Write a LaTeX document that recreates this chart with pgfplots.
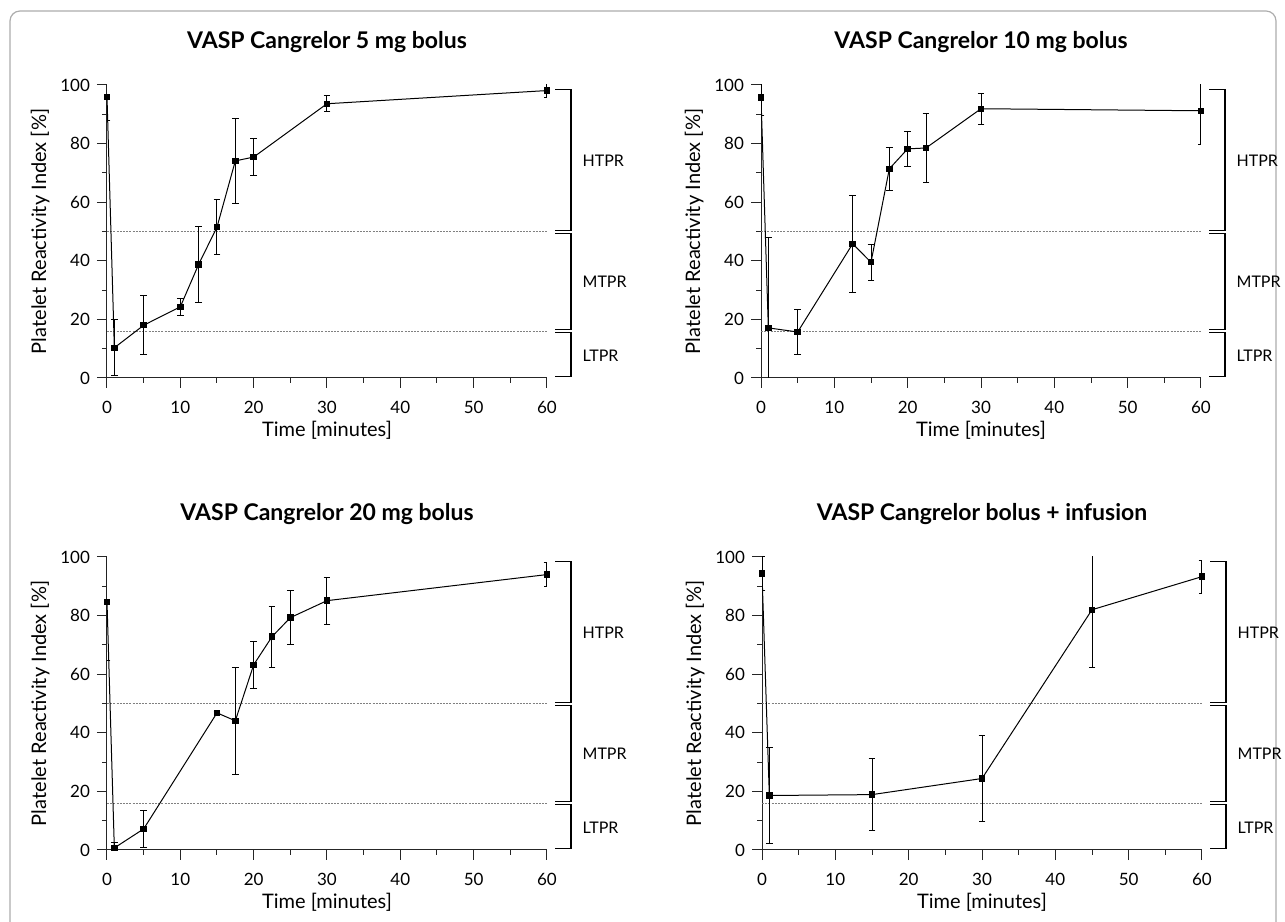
\documentclass[border=0pt]{standalone}
\usepackage{pgfplots}
\pgfplotsset{compat=1.18}
\usepackage{fontspec}
\setmainfont{Lato}

% one pixel of the reference = 0.5pt
\pgfplotsset{
  panel/.style={
    scale only axis, width=220pt, height=146.5pt, anchor=south west,
    xmin=0, xmax=60, ymin=0, ymax=100,
    axis lines=left, axis line style={-, line width=0.5pt, black!85},
    xtick={0,10,...,60}, minor xtick={5,15,...,55},
    ytick={0,20,...,100}, minor ytick={10,30,...,90},
    tick align=outside, major tick length=5pt, minor tick length=2.5pt,
    every tick/.style={black!85, line width=0.5pt},
    tick label style={font=\fontsize{8.5}{10}\selectfont},
    xticklabel style={yshift=-3pt},
    /pgf/number format/assume math mode=true,
    xlabel={Time [minutes]}, ylabel={Platelet Reactivity Index [\%]},
    label style={font=\fontsize{10}{12}\selectfont},
    xlabel style={at={(axis description cs:0.5,-0.18)}, anchor=center},
    ylabel style={at={(axis description cs:-0.152,0.5)}, anchor=center},
    % the default title style already shifts it up by 6pt
    title style={at={(axis description cs:0.5,1.085)}, anchor=base,
      font=\bfseries\fontsize{11.5}{13}\selectfont},
    clip mode=individual,
  },
  dat/.style={black, line width=0.5pt, mark=square*, mark size=1.35pt,
    error bars/.cd, y dir=both, y explicit,
    error bar style={line width=0.5pt},
    error mark options={rotate=90, mark size=1.7pt, line width=0.5pt}},
}

\newcommand\thresholds{%
  \draw[gray, line width=0.35pt, dash pattern=on 1pt off 0.6pt] (axis cs:0,50) -- (axis cs:60,50);
  \draw[gray, line width=0.35pt, dash pattern=on 1pt off 0.6pt] (axis cs:0,16) -- (axis cs:60,16);
  \draw[line width=0.7pt] (axis cs:61.1,98.5) -- (axis cs:63.3,98.5) -- (axis cs:63.3,50.3) -- (axis cs:61.1,50.3);
  \draw[line width=0.7pt] (axis cs:61.1,49.4) -- (axis cs:63.3,49.4) -- (axis cs:63.3,16.5) -- (axis cs:61.1,16.5);
  \draw[line width=0.7pt] (axis cs:61.1,15.6) -- (axis cs:63.3,15.6) -- (axis cs:63.3,0.5) -- (axis cs:61.1,0.5);
  \node[anchor=west, font=\fontsize{8}{9}\selectfont] at (axis cs:63.9,74.3) {HTPR};
  \node[anchor=west, font=\fontsize{8}{9}\selectfont] at (axis cs:63.9,33) {MTPR};
  \node[anchor=west, font=\fontsize{8}{9}\selectfont] at (axis cs:63.9,7.6) {LTPR};
}

\begin{document}
\begin{tikzpicture}
\useasboundingbox (0,0) rectangle (642.5pt,460.5pt);
\draw[gray!65, line width=0.6pt, rounded corners=5pt]
  (5pt,-10pt) -- (5pt,455pt) -- (638pt,455pt) -- (638pt,-10pt);

\begin{axis}[panel, at={(53.5pt,271.5pt)}, title={VASP Cangrelor 5 mg bolus}]
\thresholds
\addplot[dat] coordinates {
(0,96.0) +- (0,8)
(1,10.3) +- (0,9.5)
(5,18.0) +- (0,10)
(10,24.3) +- (0,3)
(12.5,38.8) +- (0,12.9)
(15,51.5) +- (0,9.3)
(17.5,74.1) +- (0,14.6)
(20,75.4) +- (0,6.2)
(30,93.6) +- (0,2.8)
(60,98.1) +- (0,2.4)
};
\end{axis}

\begin{axis}[panel, at={(380.5pt,271.5pt)}, title={VASP Cangrelor 10 mg bolus}]
\thresholds
\addplot[dat] coordinates {
(0,95.7) +- (0,6)
(1,17.1) += (0,31) -= (0,20)
(5,15.7) +- (0,7.7)
(12.5,45.8) +- (0,16.6)
(15,39.5) +- (0,6.2)
(17.5,71.4) +- (0,7.4)
(20,78.2) +- (0,6)
(22.5,78.5) +- (0,11.7)
(30,91.9) +- (0,5.3)
(60,91.2) +- (0,11.6)
};
\end{axis}

\begin{axis}[panel, at={(53.5pt,35.5pt)}, title={VASP Cangrelor 20 mg bolus}]
\thresholds
\addplot[dat] coordinates {
(0,84.7) +- (0,20)
(1,0.7) +- (0,1.8)
(5,7.2) +- (0,6.3)
(15,46.8) +- (0,0.3)
(17.5,44.1) +- (0,18.2)
(20,63.2) +- (0,8)
(22.5,72.8) +- (0,10.4)
(25,79.3) +- (0,9.3)
(30,85.1) +- (0,8)
(60,94.0) +- (0,4)
};
\end{axis}

\begin{axis}[panel, at={(381pt,35.5pt)}, title={VASP Cangrelor bolus + infusion}]
\thresholds
\addplot[dat] coordinates {
(0,94.4) +- (0,5.7)
(1,18.6) +- (0,16.3)
(15,18.9) +- (0,12.2)
(30,24.4) +- (0,14.8)
(45,82.0) +- (0,19.8)
(60,93.3) +- (0,5.6)
};
\end{axis}
\end{tikzpicture}
\end{document}
